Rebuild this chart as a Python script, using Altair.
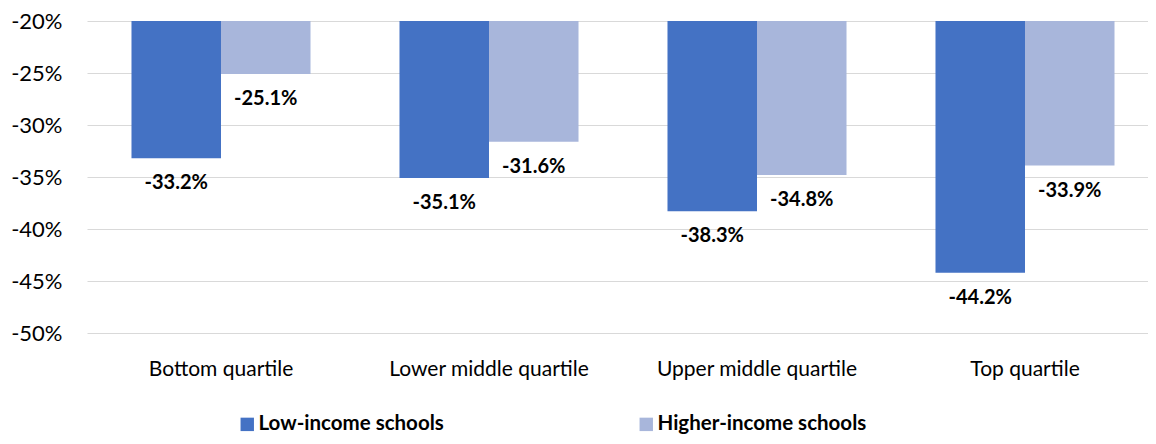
import altair as alt
import pandas as pd

categories = ["Bottom quartile", "Lower middle quartile", "Upper middle quartile", "Top quartile"]
series = ["Low-income schools", "Higher-income schools"]
low_income = [-33.2, -35.1, -38.3, -44.2]
higher_income = [-25.1, -31.6, -34.8, -33.9]
colors = ["#4472C4", "#A8B6DB"]

rows = []
for i, c in enumerate(categories):
    rows.append({"cat": c, "series": series[0], "value": low_income[i]})
    rows.append({"cat": c, "series": series[1], "value": higher_income[i]})
df = pd.DataFrame(rows)

FONT = "Lato"

x = alt.X("cat:N", sort=categories, title=None,
          scale=alt.Scale(paddingInner=0.332, paddingOuter=0.166),
          axis=alt.Axis(labelAngle=0, labelFontSize=21, labelColor="#000000", labelFont=FONT,
                        ticks=False, domain=False, labelPadding=25, grid=False, labelLimit=0))
xo = alt.XOffset("series:N", sort=series, scale=alt.Scale(paddingInner=0, paddingOuter=0))

bars = alt.Chart(df).mark_bar().encode(
    x=x,
    xOffset=xo,
    y=alt.Y("value:Q", title=None,
            scale=alt.Scale(domain=[-50, -20], nice=False, zero=False),
            axis=alt.Axis(values=[-20, -25, -30, -35, -40, -45, -50], labelExpr="datum.value + '%'",
                          labelFontSize=22, labelColor="#000000", labelFont=FONT, ticks=False,
                          domain=False, labelPadding=25, grid=True, gridColor="#d9d9d9", gridWidth=1.2)),
    y2=alt.datum(-20),
    color=alt.Color("series:N", sort=series, scale=alt.Scale(domain=series, range=colors),
                    legend=alt.Legend(title=None, orient="none", legendX=150, legendY=393,
                                      direction="horizontal", symbolType="square", symbolSize=180,
                                      symbolStrokeWidth=0, labelFontSize=20.5, labelFontWeight="bold",
                                      labelFont=FONT, labelColor="#000000", columnPadding=192,
                                      labelOffset=1, labelLimit=0)),
)

labels = alt.Chart(df).transform_calculate(
    lbl="datum.value + '%'"
).mark_text(baseline="middle", dy=25, fontSize=20, fontWeight="bold", font=FONT, color="#000000").encode(
    x=alt.X("cat:N", sort=categories),
    xOffset=alt.XOffset("series:N", sort=series),
    y=alt.Y("value:Q"),
    text="lbl:N",
)

chart = alt.layer(bars, labels).properties(
    width=1072, height=312,
    autosize="none",
    padding={"left": 79, "top": 13, "right": -11, "bottom": 103},
    background="#ffffff",
).configure_view(stroke=None).configure_axisX(grid=False)

chart.save("out.html", embed_options={"renderer": "svg", "actions": False})
